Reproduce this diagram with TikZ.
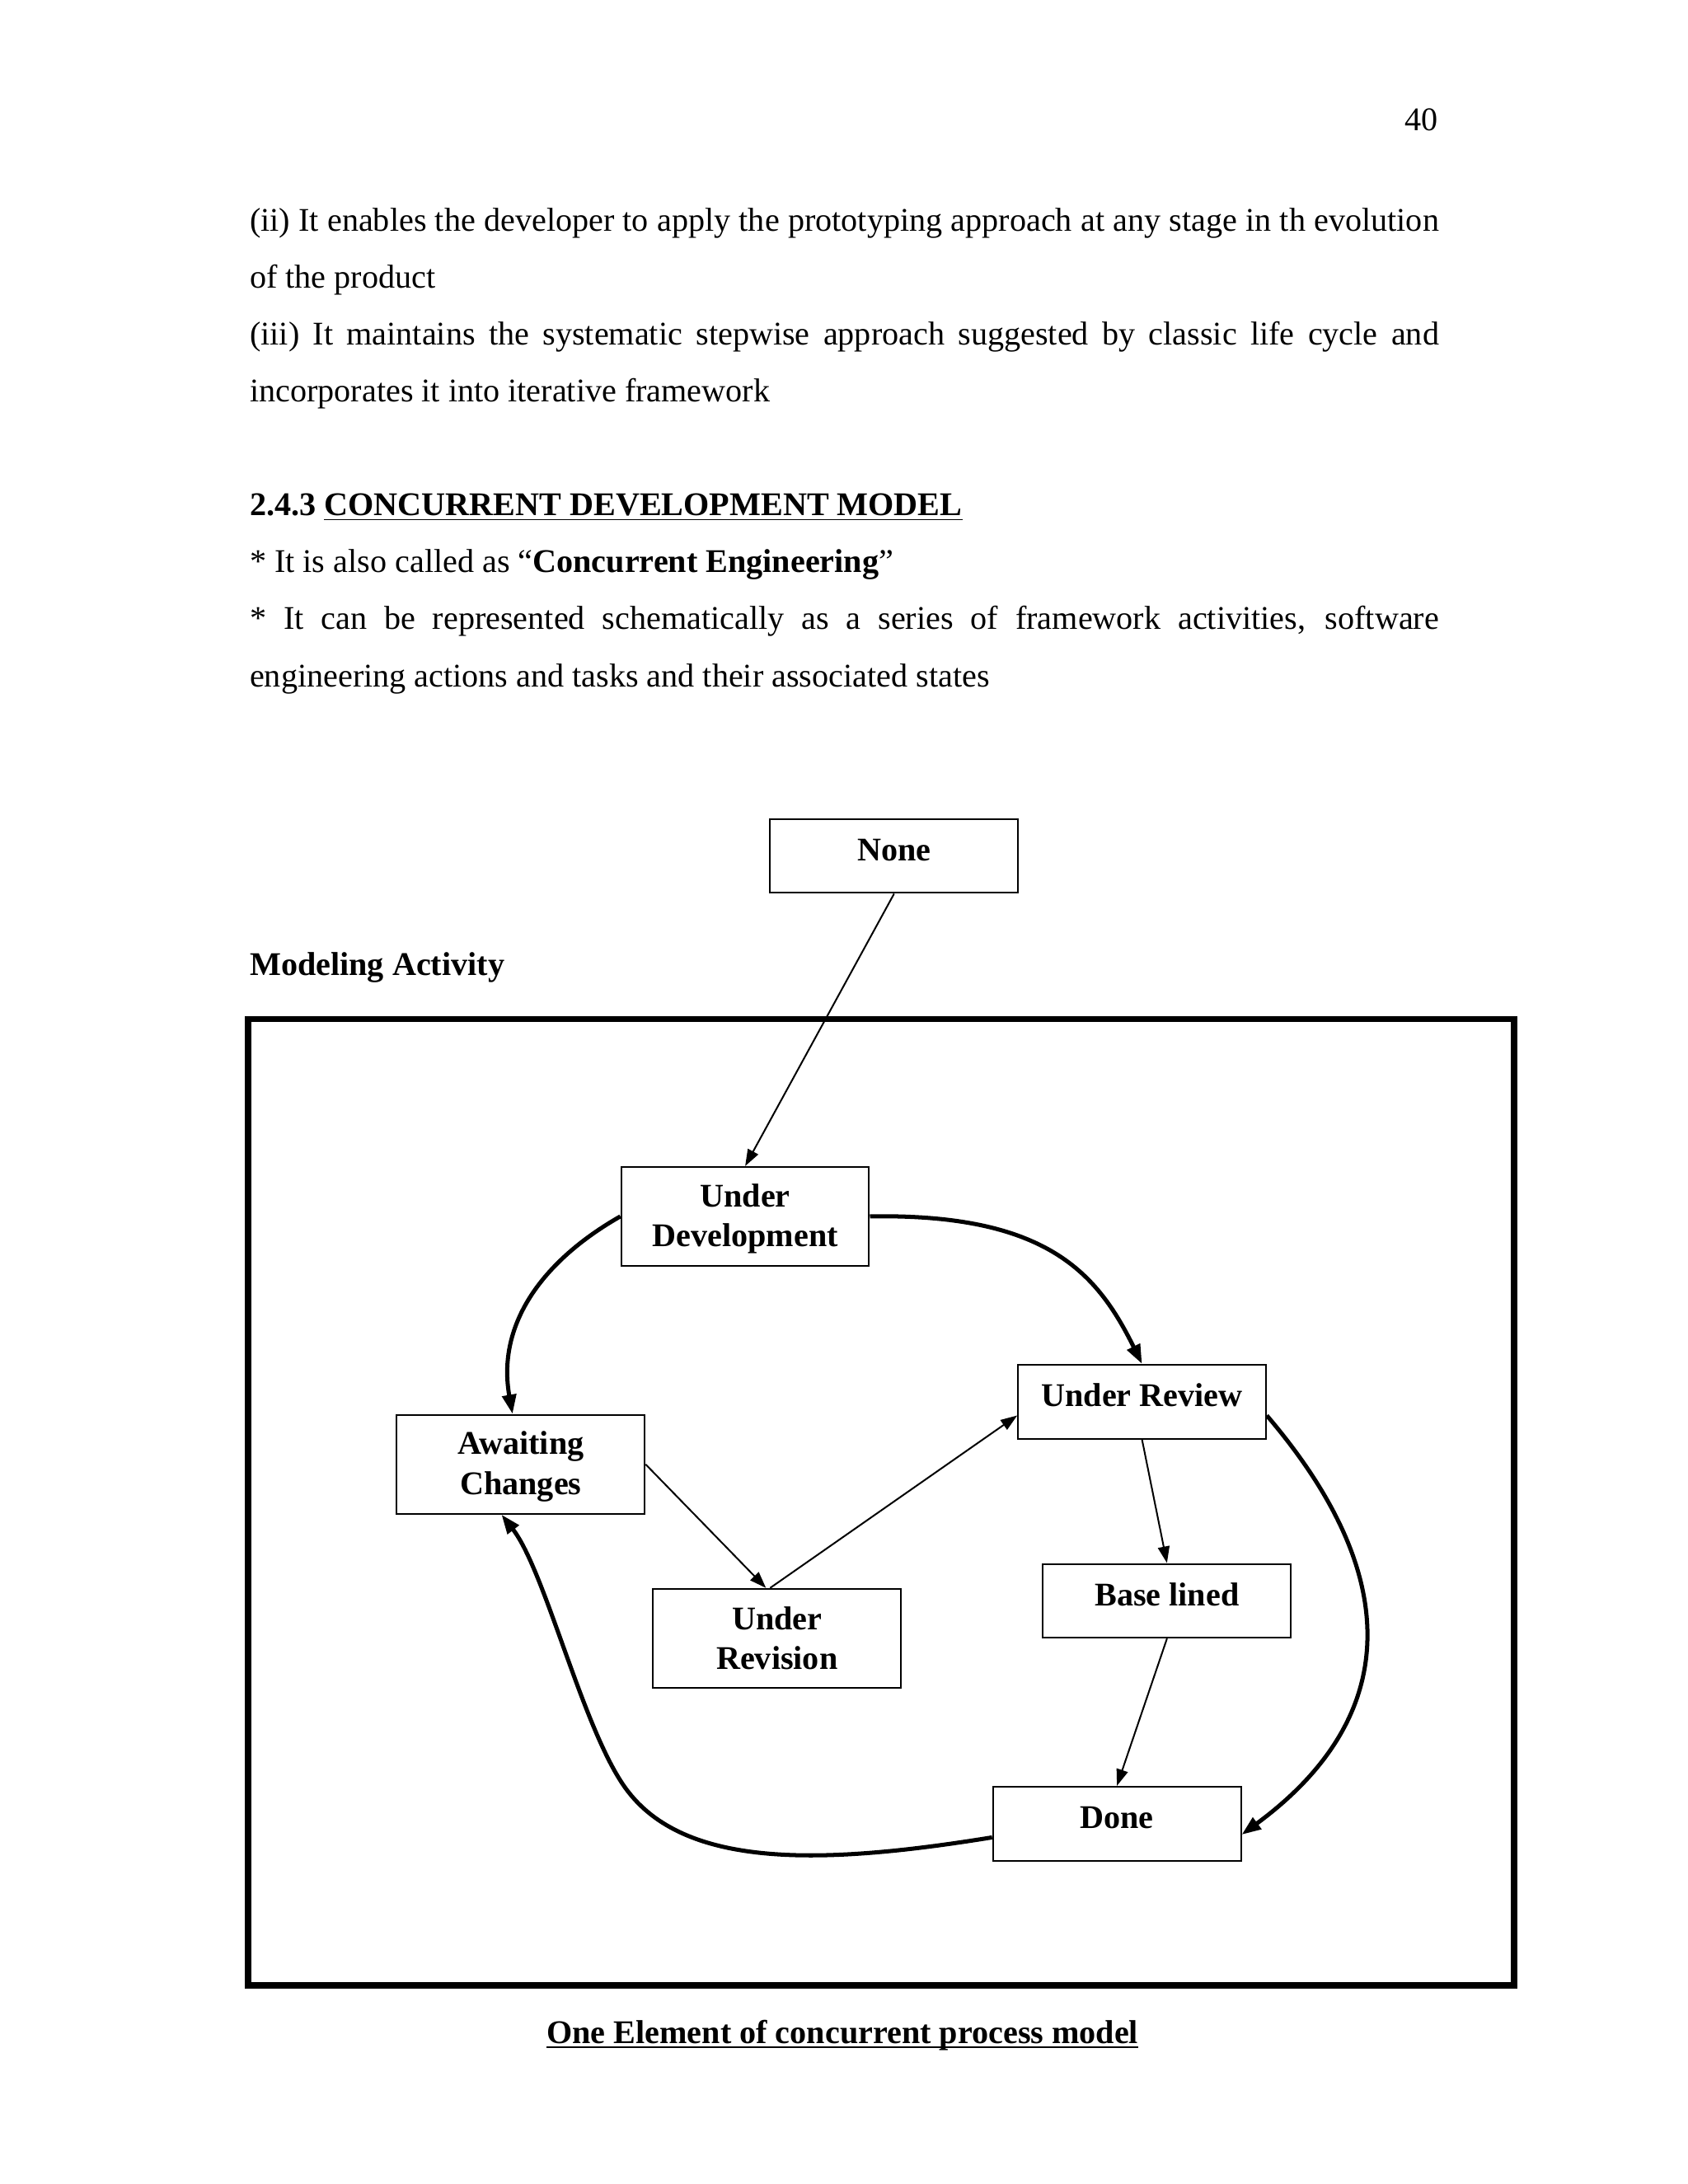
\documentclass[tikz,border=0pt]{standalone}
\usepackage{fontspec}
\setmainfont{Liberation Serif}
\usetikzlibrary{arrows.meta}
\begin{document}
\begin{tikzpicture}[x=1pt,y=-1pt,
  txt/.style={anchor=base west,inner sep=0pt,font=\fontsize{12pt}{14.4pt}\selectfont},
  st/.style={draw,line width=0.6pt,minimum width=89.9pt,inner sep=0pt,font=\fontsize{12pt}{14.4pt}\selectfont\bfseries,align=center},
  one/.style={st,minimum height=26.8pt,text height=8pt,text depth=4.6pt},
  two/.style={st,minimum height=35.9pt},
  thinarr/.style={line width=0.6pt,-{Triangle[length=6pt,width=4.2pt]}},
  thickarr/.style={line width=1.5pt,-{Triangle[length=7pt,width=5pt]}}]
\fill[white] (0,0) rectangle (612,792);
\useasboundingbox (0,0) rectangle (612,792);

% page text
\node[anchor=base east,inner sep=0pt,font=\fontsize{12pt}{14.4pt}\selectfont] (pg) at (521.6,47.5) {40};
\node[txt] (l1) at (90.4,83.8) {\makebox[431.2pt][s]{(ii) It enables the developer to apply the prototyping approach at any stage in th evolution}};
\node[txt] (l2) at (90.4,104.4) {of the product};
\node[txt] (l3) at (90.4,125.0) {\makebox[431.2pt][s]{(iii) It maintains the systematic stepwise approach suggested by classic life cycle and}};
\node[txt] (l4) at (90.4,145.6) {incorporates it into iterative framework};
\node[txt] (h1) at (90.4,186.9) {\bfseries 2.4.3 \underline{CONCURRENT DEVELOPMENT MODEL}};
\node[txt] (l5) at (90.4,207.6) {* It is also called as “\textbf{Concurrent Engineering}”};
\node[txt] (l6) at (90.4,228.3) {\makebox[431.2pt][s]{* It can be represented schematically as a series of framework activities, software}};
\node[txt] (l7) at (90.4,249.0) {engineering actions and tasks and their associated states};

% diagram
\node[txt,font=\fontsize{12pt}{14.4pt}\selectfont\bfseries] (ma) at (90.4,353.6) {Modeling Activity};
\draw[line width=2.2pt] (90,369.5) rectangle (549,720);

\node[one] (N)   at (324.2,310.4) {None};
\node[two] (UD)  at (270.2,441.1) {\rule{0pt}{10pt}Under\\Development};
\node[one] (UR)  at (414.1,508.3) {Under Review};
\node[two] (AC)  at (188.85,531.0) {\rule{0pt}{10pt}Awaiting\\Changes};
\node[two] (URv) at (281.75,594.1) {Under\\Revision};
\node[one] (BL)  at (423.15,580.5) {Base lined};
\node[one] (D)   at (405.0,661.3) {Done};

\draw[thinarr] (N.south) -- (UD.north);
\draw[thickarr] (UD.west) .. controls (197,457) and (180,480) .. ([xshift=-3pt]AC.north);
\draw[thickarr] (UD.east) .. controls (380,440) and (398,462) .. (UR.north);
\draw[thinarr] (AC.east) -- ([xshift=-4pt]URv.north);
\draw[thinarr] ([xshift=-2.5pt]URv.north) -- ([yshift=-5pt]UR.west);
\draw[thinarr] (UR.south) -- (BL.north);
\draw[thinarr] (BL.south) -- (D.north);
\draw[thickarr] ([yshift=-5pt]UR.east) .. controls (512,575) and (505,625) .. ([yshift=-4pt]D.east);
\draw[thickarr] ([yshift=-5pt]D.west) .. controls (300,676) and (250,678) .. (228,650)
   .. controls (212,630) and (198,570) .. ([xshift=-7pt]AC.south);

\node[anchor=base,inner sep=0pt,font=\fontsize{12pt}{14.4pt}\selectfont\bfseries] (cap) at (305.5,741) {\underline{\smash{One Element of concurrent process model}}};
\end{tikzpicture}
\end{document}
